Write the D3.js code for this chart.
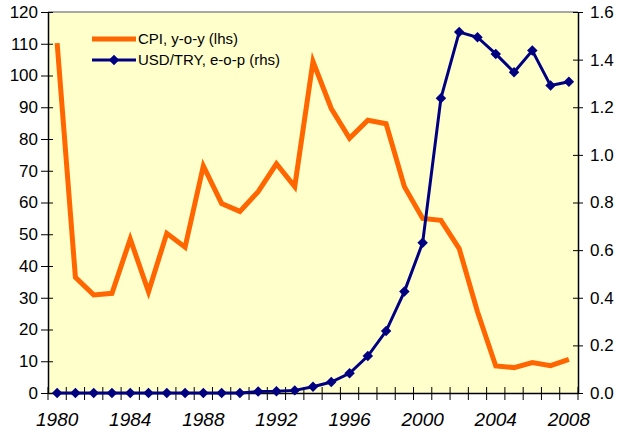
<!DOCTYPE html>
<html>
<head>
<meta charset="utf-8">
<script src="https://cdn.jsdelivr.net/npm/d3@7"></script>
<style>
  body { margin: 0; background: #fff; }
  svg { display: block; font-family: Arial, "Liberation Sans", sans-serif; }
</style>
</head>
<body>
<svg width="617" height="432"></svg>
<script>
/********** Data **********/
var years = d3.range(1980, 2009);
var cpi = [110.2, 36.4, 30.9, 31.4, 48.5, 31.9, 50.3, 45.9, 71.5, 59.7,
           57.2, 63.4, 72.2, 65.0, 104.4, 89.6, 80.2, 85.9, 84.8, 65.0,
           55.0, 54.4, 45.5, 25.6, 8.5, 8.0, 9.6, 8.6, 10.6];
var usdtry = [0.0, 0.0, 0.0, 0.0, 0.0, 0.0, 0.0, 0.0, 0.0, 0.0,
              0.0, 0.006, 0.007, 0.011, 0.026, 0.046, 0.083, 0.155, 0.26, 0.426,
              0.631, 1.238, 1.516, 1.494, 1.424, 1.347, 1.438, 1.291, 1.307];
var leftTicks = [0, 10, 20, 30, 40, 50, 60, 70, 80, 90, 100, 110, 120];
var rightTicks = [0, 0.2, 0.4, 0.6, 0.8, 1.0, 1.2, 1.4, 1.6];
var yearLabels = [1980, 1984, 1988, 1992, 1996, 2000, 2004, 2008];
var legendLabels = ["CPI, y-o-y (lhs)", "USD/TRY, e-o-p (rhs)"];

var svg = d3.select("svg"),
    margin = {top: 12, right: 39, bottom: 39, left: 48},
    width = +svg.attr("width") - margin.left - margin.right,
    height = +svg.attr("height") - margin.top - margin.bottom;

var g = svg.append("g")
           .attr("transform", "translate(" + margin.left + "," + margin.top + ")");

var x = d3.scaleBand().domain(years).range([0, width]);
var yL = d3.scaleLinear().domain([0, 120]).range([height, 0]);
var yR = d3.scaleLinear().domain([0, 1.6]).range([height, 0]);

function cx(d) { return x(d) + x.bandwidth() / 2; }

// plot area
g.append("rect")
 .attr("width", width)
 .attr("height", height)
 .attr("fill", "#ffffcc");

g.append("line")
 .attr("x1", 0).attr("x2", width)
 .attr("y1", 0).attr("y2", 0)
 .attr("stroke", "#8c8c8c")
 .attr("stroke-width", 1.5);

/********** Axes **********/
var leftAxis = g.append("g")
    .call(d3.axisLeft(yL).tickValues(leftTicks).tickSize(7).tickPadding(3).tickSizeOuter(0));

var rightAxis = g.append("g")
    .attr("transform", "translate(" + width + ",0)")
    .call(d3.axisRight(yR).tickValues(rightTicks).tickSize(5).tickPadding(7)
             .tickFormat(d3.format(".1f")).tickSizeOuter(0));

var bottomAxis = g.append("g")
    .attr("transform", "translate(0," + height + ")")
    .call(d3.axisBottom(x).tickValues([]).tickSizeOuter(0));

// ticks between categories
bottomAxis.selectAll(".sep")
    .data(years.concat([2009]))
    .enter().append("line")
    .attr("class", "sep")
    .attr("x1", function(d) { return d === 2009 ? width : x(d); })
    .attr("x2", function(d) { return d === 2009 ? width : x(d); })
    .attr("y1", -6).attr("y2", 7)
    .attr("stroke", "#000");

bottomAxis.selectAll(".yl")
    .data(yearLabels)
    .enter().append("text")
    .attr("class", "yl")
    .attr("x", cx)
    .attr("y", 33)
    .attr("text-anchor", "middle")
    .attr("font-style", "italic")
    .attr("font-size", 19)
    .attr("fill", "#000")
    .text(function(d) { return d; });

// inner tick stubs on left / right
leftAxis.selectAll(".tick line").attr("x2", -7).clone().attr("x2", 5);
rightAxis.selectAll(".tick line").clone().attr("x2", -5);

[leftAxis, rightAxis].forEach(function(a) {
    a.select(".domain").attr("stroke-width", 1.5);
    a.selectAll("text").attr("font-size", 17).attr("fill", "#000");
});
bottomAxis.select(".domain").attr("stroke-width", 1.5);

/********** Lines **********/
var cpiLine = d3.line()
    .x(function(d, i) { return cx(years[i]); })
    .y(function(d) { return yL(d); });

var fxLine = d3.line()
    .x(function(d, i) { return cx(years[i]); })
    .y(function(d) { return yR(d); });

g.append("path")
 .datum(cpi)
 .attr("d", cpiLine)
 .attr("fill", "none")
 .attr("stroke", "#ff6600")
 .attr("stroke-width", 5)
 .attr("stroke-linejoin", "miter");

g.append("path")
 .datum(usdtry)
 .attr("d", fxLine)
 .attr("fill", "none")
 .attr("stroke", "#000080")
 .attr("stroke-width", 3);

var diamond = d3.symbol().type(d3.symbolDiamond2).size(70);

g.selectAll(".pt")
 .data(usdtry)
 .enter().append("path")
 .attr("class", "pt")
 .attr("d", diamond)
 .attr("transform", function(d, i) { return "translate(" + cx(years[i]) + "," + yR(d) + ")"; })
 .attr("fill", "#000080");

/********** Legend **********/
var legend = svg.append("g").attr("transform", "translate(92,39)");

legend.append("line")
      .attr("x1", 0).attr("x2", 44).attr("y1", 0).attr("y2", 0)
      .attr("stroke", "#ff6600").attr("stroke-width", 5);

legend.append("line")
      .attr("x1", 0).attr("x2", 44).attr("y1", 21).attr("y2", 21)
      .attr("stroke", "#000080").attr("stroke-width", 3);

legend.append("path")
      .attr("d", diamond)
      .attr("transform", "translate(22,21)")
      .attr("fill", "#000080");

legend.selectAll("text")
      .data(legendLabels)
      .enter().append("text")
      .attr("x", 46)
      .attr("y", function(d, i) { return i * 21 + 5; })
      .attr("font-size", 15)
      .attr("fill", "#000")
      .text(function(d) { return d; });
</script>
</body>
</html>
